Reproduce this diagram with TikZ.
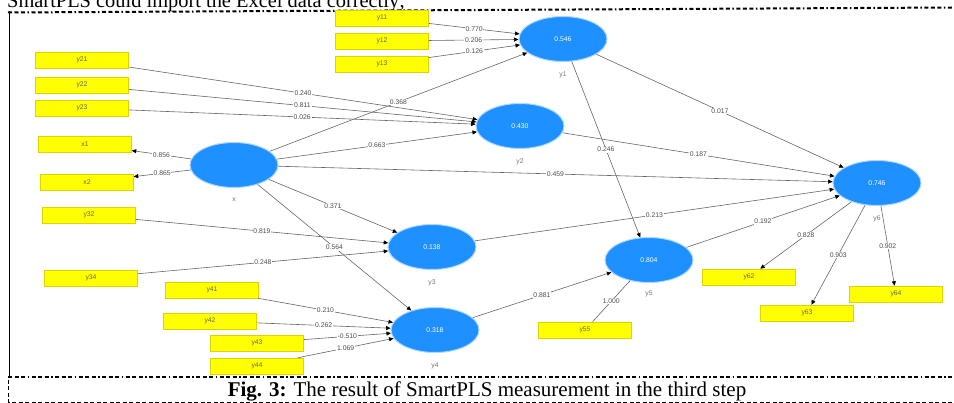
\documentclass[tikz,border=0pt]{standalone}
\usepackage{xcolor}
\usepackage{fontspec}
\setmainfont{Liberation Serif}
\setsansfont{Liberation Sans}
\usepackage{tikz}
\usetikzlibrary{arrows.meta, shapes.geometric}

\definecolor{plsblue}{RGB}{30,144,255}
\definecolor{plsrim}{RGB}{170,215,255}
\definecolor{plsyellow}{RGB}{255,255,0}
\definecolor{plsedge}{RGB}{222,210,0}

\begin{document}
\begin{tikzpicture}[
    x=1pt, y=-1pt,
    latent/.style={ellipse, fill=plsblue, draw=plsrim, line width=1pt,
        minimum width=88pt, minimum height=45pt, inner sep=0pt,
        font=\fontsize{6.8}{7}\sffamily, text=white},
    indicator/.style={rectangle, fill=plsyellow, draw=plsedge, line width=0.5pt,
        minimum width=93pt, minimum height=16pt, inner sep=0pt,
        font=\fontsize{6.8}{7}\sffamily, text=black!60},
    lv_name/.style={font=\fontsize{6.8}{7}\sffamily, text=black!55, label distance=6pt},
    edge_label/.style={font=\fontsize{6.8}{7}\sffamily, text=black!70, fill=white, inner sep=0.8pt},
    link/.style={draw=black!60, line width=0.6pt},
    frame_dots/.style={line width=2pt,
        dash pattern=on 4pt off 2.5pt on 4pt off 2.5pt on 4pt off 2.5pt on 1.5pt off 2.5pt},
    >={Triangle[length=4.5pt, width=4pt, color=black]},
]
    \clip (0,0) rectangle (954,403);

    \node[anchor=base west, font=\fontsize{20.4}{22}\selectfont, inner sep=0pt] (intro) at (7,7.5)
        {SmartPLS could import the Excel data correctly;};
    \draw[frame_dots] (8,12.5) -- (954,7.5);
    \draw[line width=1.8pt] (9.5,11) -- (9.5,377);
    \draw[frame_dots] (8,377) -- (954,377);
    \draw[line width=0.9pt, dash pattern=on 4pt off 2.5pt] (8,380) -- (8,402) -- (954,402);
    \node[anchor=base, font=\fontsize{21}{23}\selectfont, inner sep=0pt] (caption) at (487,397)
        {\textbf{Fig. 3:} The result of SmartPLS measurement in the third step};

    \node[latent, label={[lv_name]below:x}] (x) at (234,165) {};
    \node[latent, label={[lv_name]below:y1}] (y1) at (563,39) {0.546};
    \node[latent, label={[lv_name]below:y2}] (y2) at (520,126) {0.430};
    \node[latent, label={[lv_name]below:y3}] (y3) at (432,247) {0.138};
    \node[latent, label={[lv_name]below:y4}] (y4) at (435,330) {0.318};
    \node[latent, label={[lv_name, label distance=4pt]below:y5}] (y5) at (649,260) {0.804};
    \node[latent, label={[lv_name]below:y6}] (y6) at (877,183) {0.746};

    \node[indicator] (y11) at (382,18) {y11};
    \node[indicator] (y12) at (382,41) {y12};
    \node[indicator] (y13) at (382,64) {y13};
    \node[indicator] (y21) at (82,60) {y21};
    \node[indicator] (y22) at (82,85) {y22};
    \node[indicator] (y23) at (82,108) {y23};
    \node[indicator] (x1) at (85,144) {x1};
    \node[indicator] (x2) at (87,182) {x2};
    \node[indicator] (y32) at (89,215) {y32};
    \node[indicator] (y34) at (91,278) {y34};
    \node[indicator] (y41) at (212,290) {y41};
    \node[indicator] (y42) at (210,321) {y42};
    \node[indicator] (y43) at (257,343) {y43};
    \node[indicator] (y44) at (257,366) {y44};
    \node[indicator] (y55) at (585,330) {y55};
    \node[indicator] (y62) at (749,277) {y62};
    \node[indicator] (y63) at (807,313) {y63};
    \node[indicator] (y64) at (896,294) {y64};

    \draw[link, ->] (y11) -- node[edge_label] {0.770} (y1);
    \draw[link, ->] (y12) -- node[edge_label] {0.206} (y1);
    \draw[link, ->] (y13) -- node[edge_label] {0.126} (y1);
    \draw[link, ->] (y21) -- node[edge_label] {0.240} (y2);
    \draw[link, ->] (y22) -- node[edge_label] {0.811} (y2);
    \draw[link, ->] (y23) -- node[edge_label] {0.026} (y2);
    \draw[link, ->] (x) -- node[edge_label] {0.856} (x1);
    \draw[link, ->] (x) -- node[edge_label] {0.865} (x2);
    \draw[link, ->] (y32) -- node[edge_label] {0.819} (y3);
    \draw[link, ->] (y34) -- node[edge_label] {0.248} (y3);
    \draw[link, ->] (y41) -- node[edge_label] {0.210} (y4);
    \draw[link, ->] (y42) -- node[edge_label] {0.262} (y4);
    \draw[link, ->] (y43) -- node[edge_label] {-0.510} (y4);
    \draw[link, ->] (y44) -- node[edge_label] {1.069} (y4);
    \draw[link] (y5) -- node[edge_label] {1.000} (y55);
    \draw[link, ->] (y6) -- node[edge_label] {0.828} (y62);
    \draw[link, ->] (y6) -- node[edge_label] {0.903} (y63);
    \draw[link, ->] (y6) -- node[edge_label] {0.902} (y64);

    \draw[link, ->] (x) -- node[edge_label] {0.368} (y1);
    \draw[link, ->] (x) -- node[edge_label] {0.663} (y2);
    \draw[link, ->] (x) -- node[edge_label] {0.459} (y6);
    \draw[link, ->] (x) -- node[edge_label] {0.371} (y3);
    \draw[link, ->] (x) -- node[edge_label] {0.564} (y4);
    \draw[link, ->] (y1) -- node[edge_label] {0.017} (y6);
    \draw[link, ->] (y1) -- node[edge_label] {0.246} (y5);
    \draw[link, ->] (y2) -- node[edge_label] {0.187} (y6);
    \draw[link, ->] (y3) -- node[edge_label] {0.213} (y6);
    \draw[link, ->] (y5) -- node[edge_label] {0.192} (y6);
    \draw[link, ->] (y4) -- node[edge_label] {0.881} (y5);
\end{tikzpicture}
\end{document}
